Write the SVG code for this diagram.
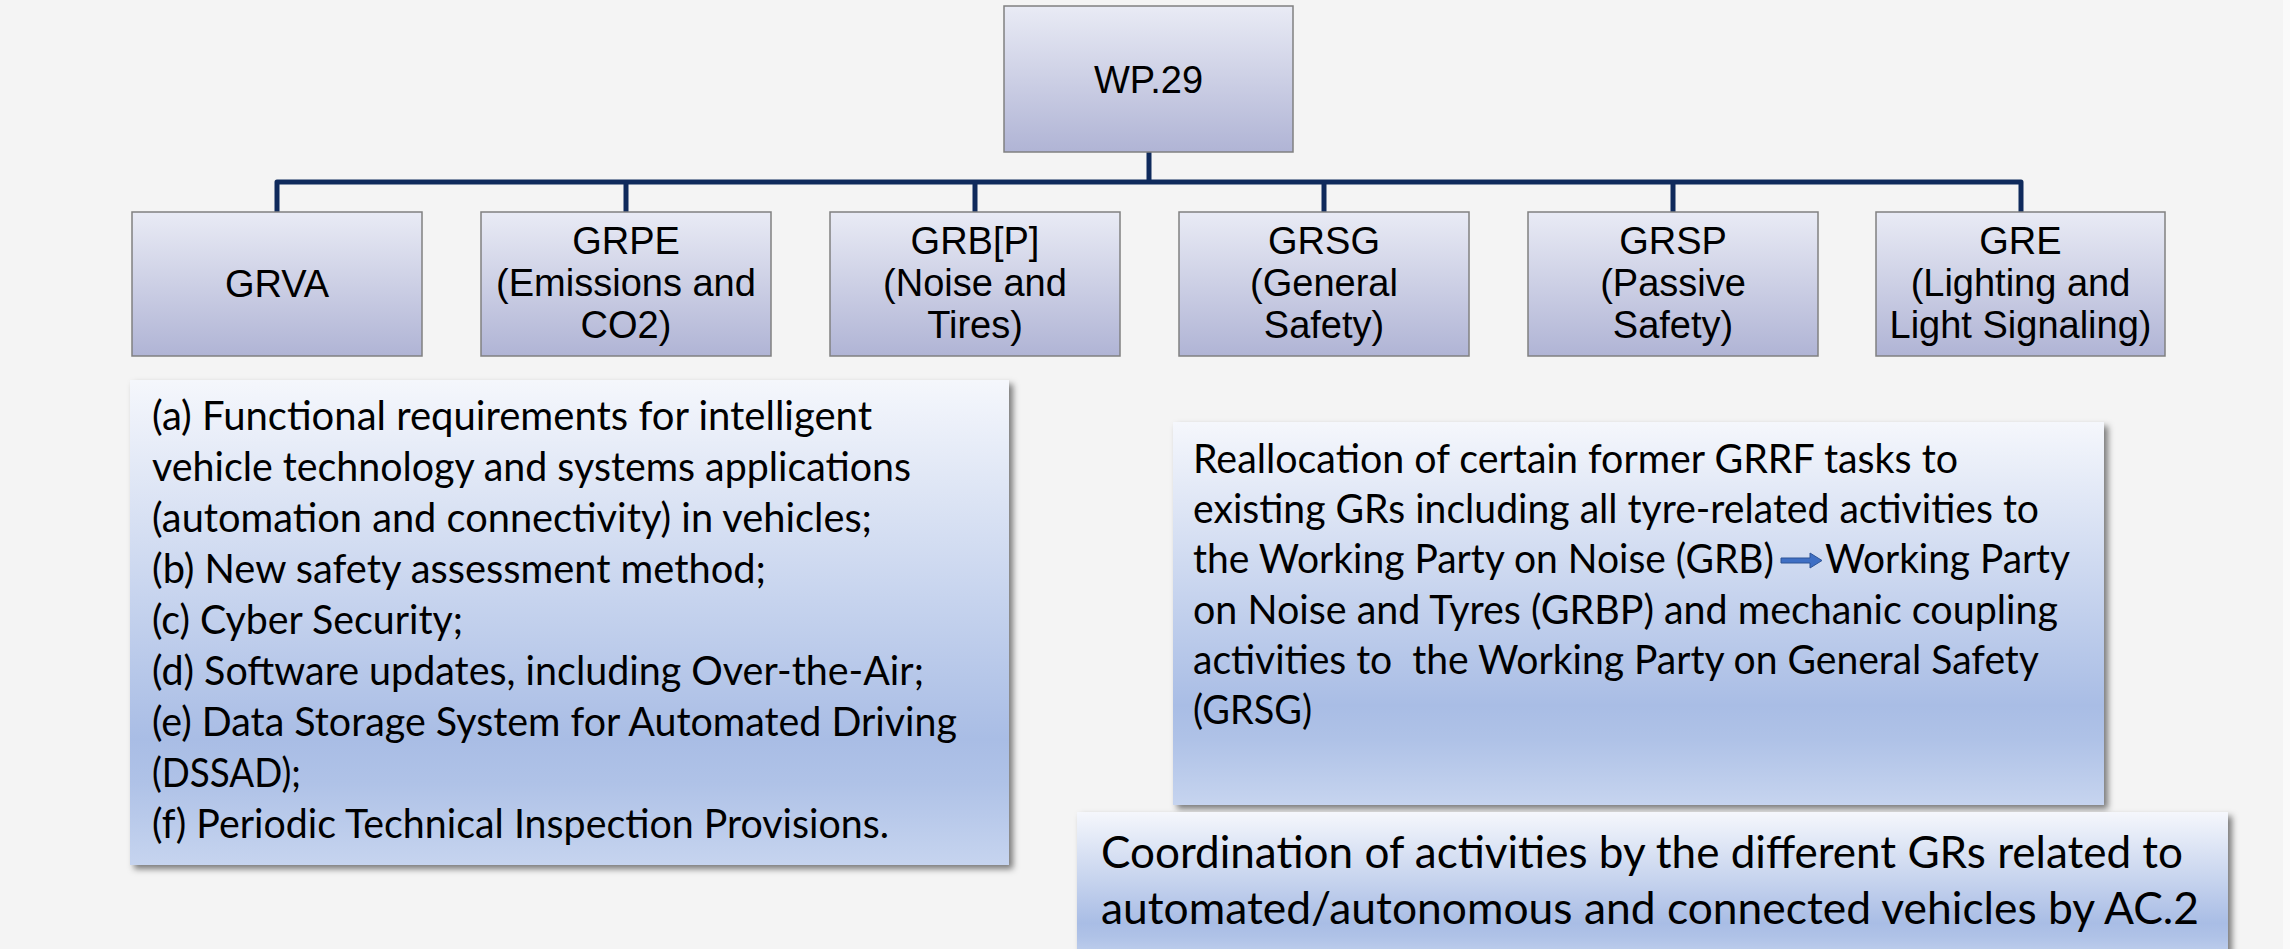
<svg xmlns="http://www.w3.org/2000/svg" width="2290" height="949" viewBox="0 0 2290 949">
  <defs>
    <linearGradient id="nodeFill" x1="0" y1="0" x2="0" y2="1">
      <stop offset="0" stop-color="#e9ebf5"/>
      <stop offset="1" stop-color="#b0b4d5"/>
    </linearGradient>
    <linearGradient id="boxFill" x1="0" y1="0" x2="0" y2="1">
      <stop offset="0" stop-color="#f5f7fc"/>
      <stop offset="0.74" stop-color="#a9bde5"/>
      <stop offset="0.83" stop-color="#afc2e7"/>
      <stop offset="1" stop-color="#c6d4ef"/>
    </linearGradient>
    <filter id="shadow" x="-5%" y="-5%" width="112%" height="115%">
      <feDropShadow dx="4" dy="4" stdDeviation="3" flood-color="#000" flood-opacity="0.5"/>
    </filter>
    <style>
      .node { fill: url(#nodeFill); stroke: #808080; stroke-width: 1.5; }
      .nlabel { font-family: "Liberation Sans", Arial, sans-serif; font-size: 38px; fill: #000; text-anchor: middle; }
      .conn { fill: none; stroke: #0f2a5c; stroke-width: 5; stroke-linejoin: round; }
      .tbox { fill: url(#boxFill); filter: url(#shadow); }
      .btext { font-family: Lato, "Open Sans", sans-serif; font-size: 40px; fill: #000; }
      .btext3 { font-family: Lato, "Open Sans", sans-serif; font-size: 45px; fill: #000; }
      .arrow { fill: #3f6fc4; stroke: #2f5597; stroke-width: 1; }
    </style>
  </defs>

  <rect x="0" y="0" width="2290" height="949" fill="#fafafa"/>
  <rect x="0" y="0" width="2283" height="949" fill="#f4f4f4"/>

  <g id="connectors">
    <path class="conn" d="M1149,152 V182"/>
    <path class="conn" d="M277,212 V182 H2021 V212"/>
    <path class="conn" d="M626,182 V212"/>
    <path class="conn" d="M975,182 V212"/>
    <path class="conn" d="M1324,182 V212"/>
    <path class="conn" d="M1673,182 V212"/>
  </g>

  <g id="node-wp29">
    <rect class="node" x="1004" y="6" width="289" height="146"/>
    <text class="nlabel" x="1148.5" y="93">WP.29</text>
  </g>

  <g id="node-grva">
    <rect class="node" x="132" y="212" width="290" height="144"/>
    <text class="nlabel" x="277" y="297">GRVA</text>
  </g>
  <g id="node-grpe">
    <rect class="node" x="481" y="212" width="290" height="144"/>
    <text class="nlabel" x="626" y="254">GRPE</text>
    <text class="nlabel" x="626" y="296">(Emissions and</text>
    <text class="nlabel" x="626" y="338">CO2)</text>
  </g>
  <g id="node-grbp">
    <rect class="node" x="830" y="212" width="290" height="144"/>
    <text class="nlabel" x="975" y="254">GRB[P]</text>
    <text class="nlabel" x="975" y="296">(Noise and</text>
    <text class="nlabel" x="975" y="338">Tires)</text>
  </g>
  <g id="node-grsg">
    <rect class="node" x="1179" y="212" width="290" height="144"/>
    <text class="nlabel" x="1324" y="254">GRSG</text>
    <text class="nlabel" x="1324" y="296">(General</text>
    <text class="nlabel" x="1324" y="338">Safety)</text>
  </g>
  <g id="node-grsp">
    <rect class="node" x="1528" y="212" width="290" height="144"/>
    <text class="nlabel" x="1673" y="254">GRSP</text>
    <text class="nlabel" x="1673" y="296">(Passive</text>
    <text class="nlabel" x="1673" y="338">Safety)</text>
  </g>
  <g id="node-gre">
    <rect class="node" x="1876" y="212" width="289" height="144"/>
    <text class="nlabel" x="2020.5" y="254">GRE</text>
    <text class="nlabel" x="2020.5" y="296">(Lighting and</text>
    <text class="nlabel" x="2020.5" y="338">Light Signaling)</text>
  </g>

  <g id="box-grva-tasks">
    <rect class="tbox" x="130" y="380" width="879" height="485"/>
    <text class="btext" x="152" y="430" textLength="720" lengthAdjust="spacingAndGlyphs">(a) Functional requirements for intelligent</text>
    <text class="btext" x="152" y="481" textLength="759" lengthAdjust="spacingAndGlyphs">vehicle technology and systems applications</text>
    <text class="btext" x="152" y="532" textLength="720" lengthAdjust="spacingAndGlyphs">(automation and connectivity) in vehicles;</text>
    <text class="btext" x="152" y="583" textLength="614" lengthAdjust="spacingAndGlyphs">(b) New safety assessment method;</text>
    <text class="btext" x="152" y="634" textLength="311" lengthAdjust="spacingAndGlyphs">(c) Cyber Security;</text>
    <text class="btext" x="152" y="685" textLength="772" lengthAdjust="spacingAndGlyphs">(d) Software updates, including Over-the-Air;</text>
    <text class="btext" x="152" y="736" textLength="805" lengthAdjust="spacingAndGlyphs">(e) Data Storage System for Automated Driving</text>
    <text class="btext" x="152" y="787" textLength="149" lengthAdjust="spacingAndGlyphs">(DSSAD);</text>
    <text class="btext" x="152" y="838" textLength="737" lengthAdjust="spacingAndGlyphs">(f) Periodic Technical Inspection Provisions.</text>
  </g>

  <g id="box-reallocation">
    <rect class="tbox" x="1173" y="422" width="931" height="383"/>
    <text class="btext" x="1193" y="473" textLength="765" lengthAdjust="spacingAndGlyphs">Reallocation of certain former GRRF tasks to</text>
    <text class="btext" x="1193" y="523" textLength="846" lengthAdjust="spacingAndGlyphs">existing GRs including all tyre-related activities to</text>
    <text class="btext" x="1193" y="573" textLength="581" lengthAdjust="spacingAndGlyphs">the Working Party on Noise (GRB)</text>
    <polygon class="arrow" points="1781,558 1810,558 1810,553 1822,560.5 1810,568 1810,563 1781,563"/>
    <text class="btext" x="1825" y="573" textLength="245" lengthAdjust="spacingAndGlyphs">Working Party</text>
    <text class="btext" x="1193" y="624" textLength="865" lengthAdjust="spacingAndGlyphs">on Noise and Tyres (GRBP) and mechanic coupling</text>
    <text class="btext" x="1193" y="674" textLength="846" lengthAdjust="spacingAndGlyphs" xml:space="preserve">activities to  the Working Party on General Safety</text>
    <text class="btext" x="1193" y="724" textLength="119" lengthAdjust="spacingAndGlyphs">(GRSG)</text>
  </g>

  <g id="box-coordination">
    <rect class="tbox" x="1077" y="812" width="1151" height="150"/>
    <text class="btext3" x="1101" y="868" textLength="1082" lengthAdjust="spacingAndGlyphs">Coordination of activities by the different GRs related to</text>
    <text class="btext3" x="1101" y="924" textLength="1098" lengthAdjust="spacingAndGlyphs">automated/autonomous and connected vehicles by AC.2</text>
  </g>
</svg>
